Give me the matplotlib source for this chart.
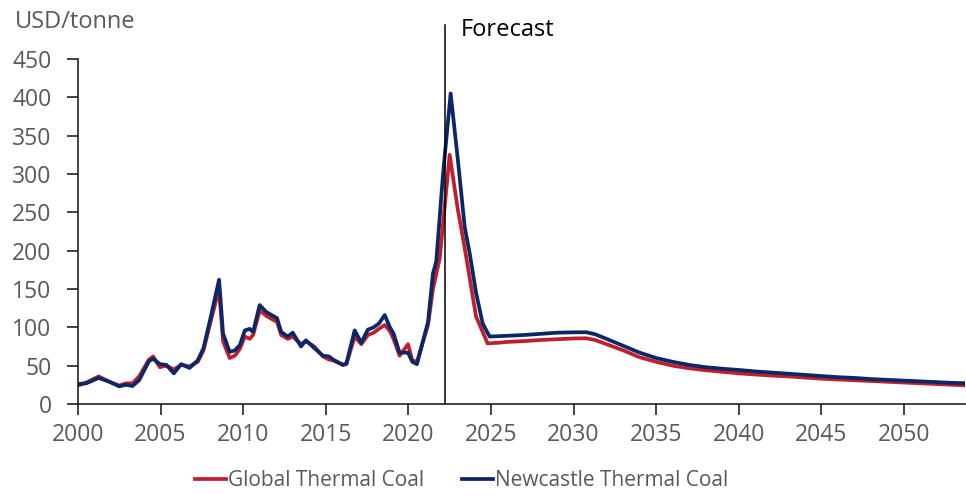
import matplotlib.pyplot as plt

# Thermal coal price history and forecast (USD/tonne)
global_years = [2000.0, 2000.5, 2001.25, 2001.9, 2002.5, 2002.9, 2003.3, 2003.7,
                2004.3, 2004.55, 2004.95, 2005.35, 2005.8, 2006.25, 2006.75,
                2007.25, 2007.6, 2008.0, 2008.54, 2008.78, 2009.18, 2009.5,
                2009.8, 2010.1, 2010.4, 2010.6, 2011.0, 2011.4, 2011.8, 2012.05,
                2012.3, 2012.7, 2013.0, 2013.5, 2013.8, 2014.3, 2014.83, 2015.2,
                2015.44, 2016.04, 2016.25, 2016.75, 2017.15, 2017.55, 2017.9,
                2018.22, 2018.57, 2018.86, 2019.1, 2019.47, 2019.98, 2020.24,
                2020.52, 2021.19, 2021.49, 2021.9, 2022.5, 2023.0, 2023.4,
                2024.1, 2024.8, 2025.5, 2026, 2027, 2028, 2029, 2030, 2030.77,
                2031.3, 2032, 2033, 2034, 2035, 2036, 2037, 2038, 2039, 2040,
                2041, 2042, 2043, 2044, 2045, 2046, 2047, 2048, 2049, 2050,
                2051, 2052, 2053, 2054]
global_price = [24, 28, 36, 29, 24, 27, 27, 36,
                58, 62, 48, 50, 45, 51, 49,
                55, 70, 105, 150, 82, 60, 63,
                72, 88, 85, 90, 122, 115, 110, 107,
                90, 85, 88, 78, 82, 75, 62, 58,
                57, 51, 52, 88, 78, 90, 93,
                98, 103, 96, 85, 63, 78, 57,
                55, 103, 150, 190, 325, 253, 205,
                114, 79, 80, 81, 82, 83.5, 84.5, 85.5, 85.7,
                83.5, 78, 70, 61, 55, 50, 46.6, 44, 42, 40,
                38.5, 37, 36, 34.5, 33, 32, 31, 30, 29, 28,
                27, 26, 25, 24]

newcastle_years = [2000.0, 2000.5, 2001.25, 2001.9, 2002.5, 2002.9, 2003.3,
                   2003.7, 2004.3, 2004.55, 2004.95, 2005.35, 2005.8, 2006.25,
                   2006.75, 2007.25, 2007.6, 2008.0, 2008.54, 2008.78, 2009.18,
                   2009.5, 2009.8, 2010.1, 2010.4, 2010.6, 2011.0, 2011.4,
                   2011.8, 2012.05, 2012.3, 2012.7, 2013.0, 2013.5, 2013.8,
                   2014.3, 2014.83, 2015.2, 2015.44, 2016.04, 2016.25, 2016.75,
                   2017.15, 2017.55, 2017.9, 2018.22, 2018.57, 2018.86, 2019.1,
                   2019.47, 2019.98, 2020.24, 2020.52, 2021.19, 2021.49,
                   2021.69, 2022.1, 2022.56, 2023.0, 2023.41, 2023.71, 2024.1,
                   2024.5, 2024.92, 2025.5, 2026, 2027, 2028, 2029, 2030,
                   2030.77, 2031.3, 2032, 2033, 2034, 2035, 2036, 2037, 2038,
                   2039, 2040, 2041, 2042, 2043, 2044, 2045, 2046, 2047, 2048,
                   2049, 2050, 2051, 2052, 2053, 2054]
newcastle_price = [26, 27, 34, 29, 23, 25, 23.5,
                   31, 56, 59, 52, 51, 40, 52,
                   47, 57, 73, 110, 162, 92, 68,
                   70, 77, 96, 98, 94, 129, 120,
                   115, 112, 94, 88, 93, 75, 83,
                   73, 63, 62, 58, 51, 53, 96,
                   80, 97, 100, 105, 116, 101, 92,
                   67, 67, 55, 52, 107, 170,
                   186, 300, 405, 318, 231, 197, 145,
                   105, 88, 88.5, 89, 90, 91.5, 93, 93.5,
                   93.6, 91, 85, 76, 67, 60, 55, 51, 48,
                   46, 44.4, 42.5, 41, 39.5, 38, 36.5, 35, 34, 32.5,
                   31.5, 30.5, 29.5, 28.5, 27.5, 27]

forecast_start = 2022.2
x_ticks = [2000, 2005, 2010, 2015, 2020, 2025, 2030, 2035, 2040, 2045, 2050]
y_ticks = [0, 50, 100, 150, 200, 250, 300, 350, 400, 450]

plt.rcParams['font.family'] = ['Open Sans', 'DejaVu Sans']
grey = '#595959'

fig = plt.figure(figsize=(9.66, 4.95), dpi=100)
ax = fig.add_axes([78 / 966, 1 - 404 / 495, (965 - 78) / 966, 345 / 495])

ax.plot(global_years, global_price, color='#C0202E', lw=2.7,
        label='Global Thermal Coal', solid_joinstyle='round')
ax.plot(newcastle_years, newcastle_price, color='#0B2767', lw=2.7,
        label='Newcastle Thermal Coal', solid_joinstyle='round')

# vertical marker where the forecast begins
ax.axvline(forecast_start, ymin=0, ymax=(404 - 25) / 345, color='black',
           lw=1.1, clip_on=False)
fig.text(461 / 966, 1 - 30 / 495, 'Forecast', fontsize=17,
         color='black', va='center', ha='left')

ax.set_xlim(2000, 2053.7)
ax.set_ylim(0, 450)
ax.set_xticks(x_ticks)
ax.set_yticks(y_ticks)

for side in ['top', 'right']:
    ax.spines[side].set_visible(False)
for side in ['left', 'bottom']:
    ax.spines[side].set_linewidth(1.2)
    ax.spines[side].set_color('#222222')

ax.tick_params(axis='both', direction='out', length=8, width=1.2,
               color='#222222', labelsize=16.5, labelcolor=grey)
ax.tick_params(axis='y', pad=11)
ax.tick_params(axis='x', pad=6)

fig.text(15 / 966, 1 - 22 / 495, 'USD/tonne', fontsize=17, color=grey,
         va='center', ha='left')

leg = fig.legend(loc='center left', bbox_to_anchor=(195 / 966, 1 - 481 / 495),
                 ncol=2, frameon=False, fontsize=15, handlelength=1.5,
                 handletextpad=0.1, columnspacing=1.8, borderpad=0,
                 borderaxespad=0)
for t in leg.get_texts():
    t.set_color(grey)

fig.savefig('out.png', dpi=100)
